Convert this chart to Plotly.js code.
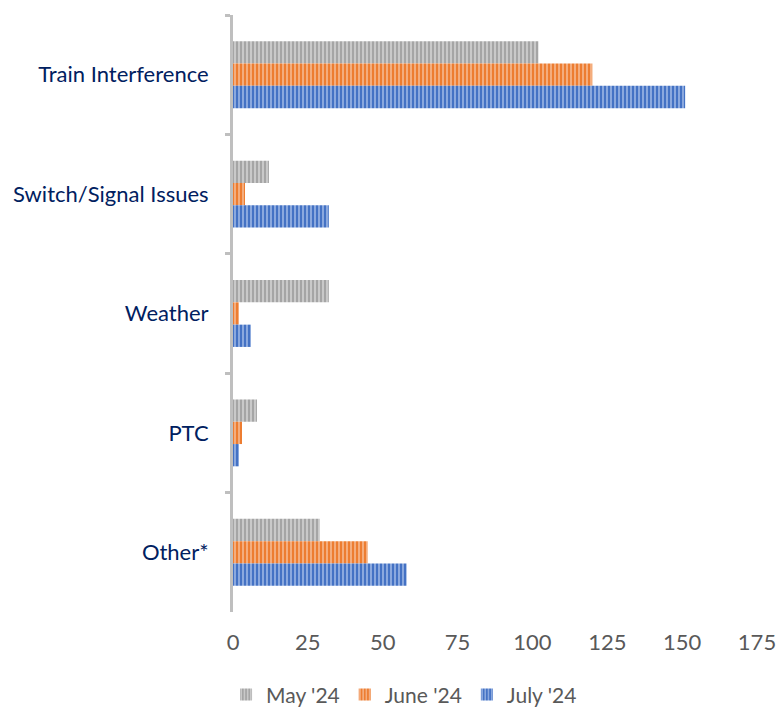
<!DOCTYPE html>
<html><head><meta charset="utf-8">
<script src="https://cdn.plot.ly/plotly-3.0.1.min.js"></script>
<style>body{margin:0;background:#fff}#chart{width:777px;height:709px}</style>
</head><body><div id="chart"></div>
<script>
var categories = ["Train Interference", "Switch/Signal Issues", "Weather", "PTC", "Other*"];
var seriesNames = ["May '24", "June '24", "July '24"];
var may24 = [102, 12, 32, 8, 29];
var june24 = [120, 4, 2, 3, 45];
var july24 = [151, 32, 6, 2, 58];
var xTicks = [0, 25, 50, 75, 100, 125, 150, 175];

var colors = ["#A5A5A5", "#ED7D31", "#4472C4"];
var stripe = ["#D9D9D9", "#F8C29E", "#A9C0EA"];
var vals = [may24, june24, july24];
var traces = vals.map(function(v, i){
  return {
    type: "bar", orientation: "h", name: seriesNames[i],
    y: categories, x: v,
    marker: {color: colors[i], line: {width: 0},
      pattern: {shape: "|", fgcolor: stripe[i], bgcolor: colors[i], size: 4, solidity: 0.35}},
    hoverinfo: "x+y"
  };
});
var layout = {
  width: 777, height: 709,
  margin: {l: 233, r: 20, t: 15, b: 97, autoexpand: false},
  paper_bgcolor: "#fff", plot_bgcolor: "#fff",
  barmode: "group", bargap: 0.44, bargroupgap: 0,
  font: {family: "Lato, 'Open Sans', sans-serif", color: "#595959"},
  xaxis: {range: [0, 175], tickvals: xTicks, showgrid: false, zeroline: false,
    showline: false, ticks: "", tickfont: {size: 22, color: "#595959"}, ticklabelstandoff: 15},
  yaxis: {autorange: "reversed", type: "category", showgrid: false, zeroline: false,
    showline: true, linecolor: "#BFBFBF", linewidth: 3,
    ticks: "outside", tickson: "boundaries", ticklen: 5, tickwidth: 3, tickcolor: "#BFBFBF",
    tickfont: {size: 22, color: "#002060"}, ticklabelstandoff: 17},
  legend: {orientation: "h", x: 0.52, xanchor: "center", xref: "container", y: 0.02, yanchor: "middle", yref: "container",
    font: {size: 21, color: "#595959"}, traceorder: "normal", itemwidth: 30}
};
Plotly.newPlot("chart", traces, layout, {displayModeBar: false});
</script></body></html>
